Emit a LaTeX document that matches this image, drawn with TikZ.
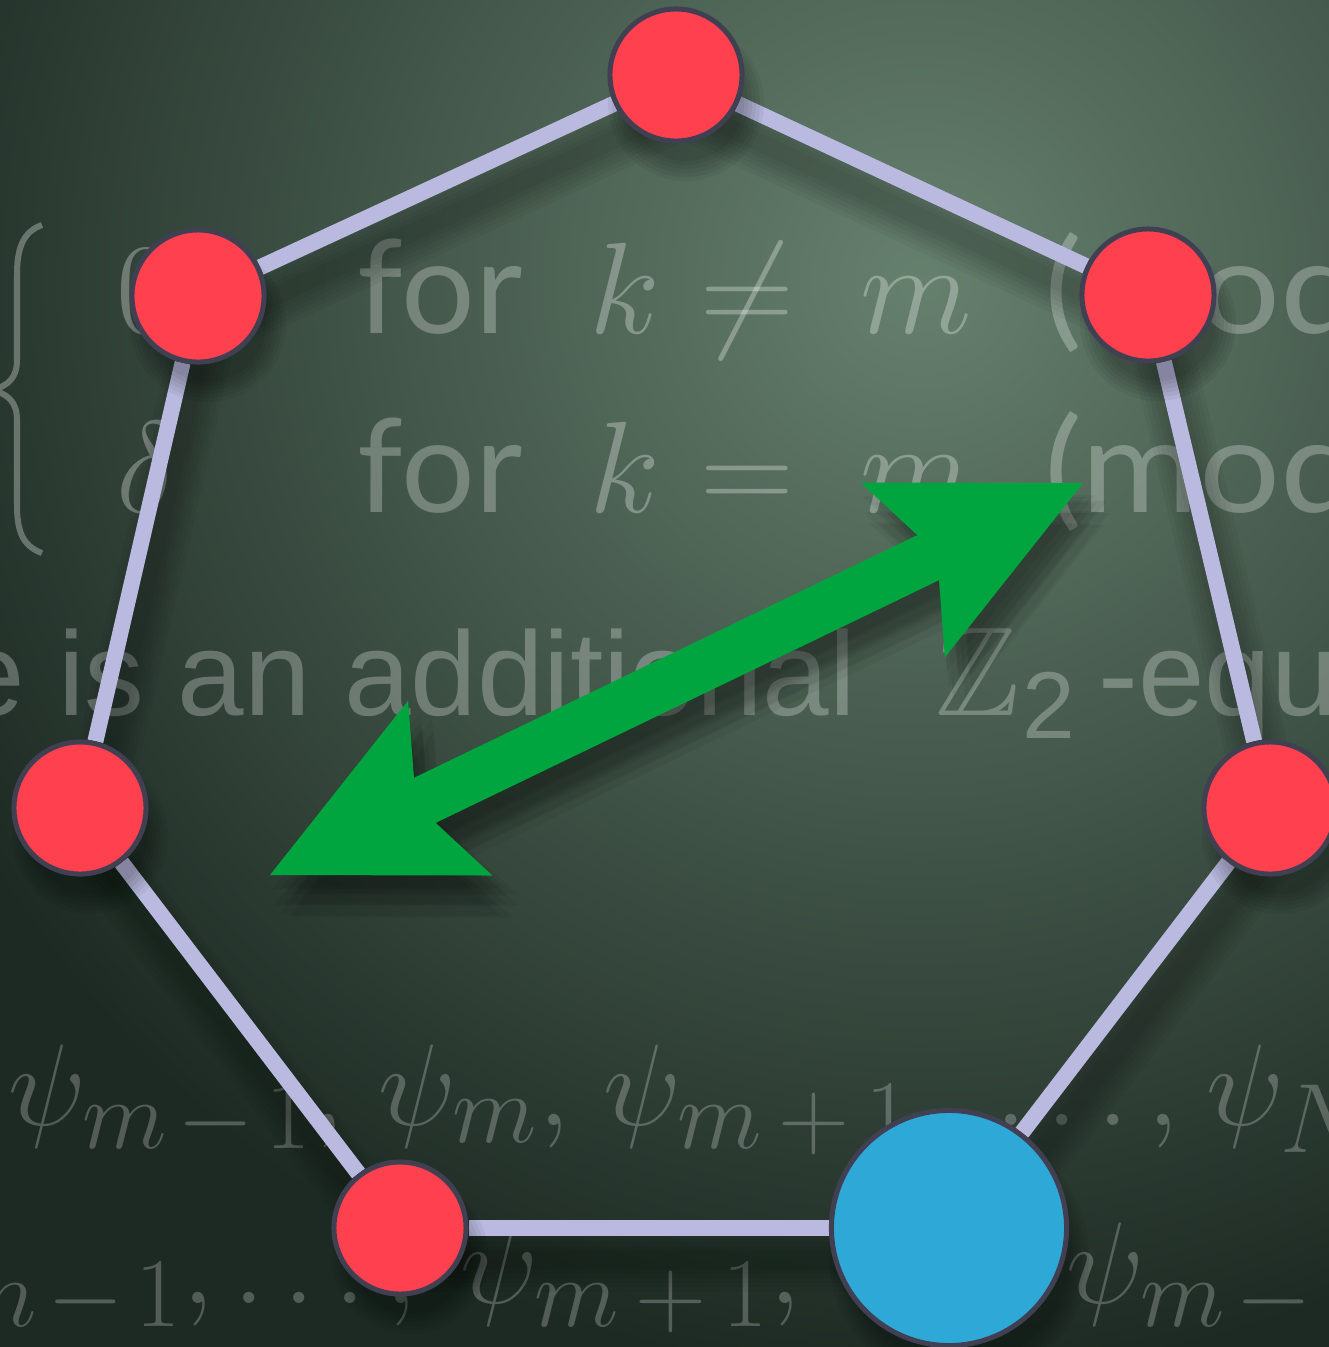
\RequirePackage{fix-cm}
\documentclass[tikz,border=0pt]{standalone}
\usepackage{fontspec}
\usepackage{amssymb}
\usepackage{graphicx}
\setsansfont{Lato}
\newfontfamily\condfont{Liberation Sans}
\usetikzlibrary{arrows.meta}
\definecolor{cboard}{HTML}{1D2A23}
\definecolor{cglow}{HTML}{66806E}
\definecolor{cred}{HTML}{FF404E}
\definecolor{cblue}{HTML}{2EA8D6}
\definecolor{crim}{HTML}{404052}
\definecolor{cedge}{HTML}{BABAE0}
\definecolor{cgreen}{HTML}{00A540}
\DeclareMathSizes{37}{37}{30}{24}
\DeclareMathSizes{33}{33}{28}{22}
\newcommand{\mminus}{m\mkern2mu-\mkern2mu1}
\newcommand{\mplus}{m\mkern3mu+\mkern3mu1}
\pgfdeclarelayer{board}
\pgfdeclarelayer{lowshadow}
\pgfdeclarelayer{links}
\pgfdeclarelayer{highshadow}
\pgfsetlayers{board,lowshadow,links,highshadow,main}
\tikzset{
  chalk/.style={text=white, text opacity=#1, inner sep=0pt, anchor=base west},
  chalk/.default=0.3,
  bigchalk/.style={chalk=0.27, font=\sffamily\fontsize{37}{40}\selectfont},
  mathbig/.style={chalk=0.3, font=\fontsize{37}{40}\selectfont},
  condchalk/.style={chalk=0.27, font=\condfont\fontsize{34}{38}\selectfont},
  mathchalk/.style={chalk=0.24, font=\fontsize{33}{36}\selectfont},
  vertex/.style={circle, draw=crim, line width=0.05cm, fill=cred, minimum size=1.32cm, inner sep=0pt},
  bigvertex/.style={vertex, fill=cblue, minimum size=2.35cm},
  link/.style={draw=cedge, line width=0.16cm},
  bighead/.tip={Stealth[length=2cm, width=1.94cm, inset=0.38cm, line width=0pt]},
  duoarrow/.style={draw=#1, line width=0.5cm, bighead-bighead},
  duoarrow/.default=cgreen,
}

\begin{document}
\begin{tikzpicture}[x=0.01cm, y=-0.01cm]
  \useasboundingbox (0,0) rectangle (1329,1347);
  % the ring
  \foreach \i/\x/\y in {1/676/75, 2/1148/295, 3/1270/808, 5/400/1228, 6/80/808, 7/198/296}
    \node[vertex] (n\i) at (\x,\y) {};
  \node[bigvertex] (n4) at (949,1228) {};
  \coordinate (aL) at (270,875);
  \coordinate (aR) at (1083,483);
  \draw[duoarrow] (aL) -- (aR);

  \begin{pgfonlayer}{board}
    \fill[cboard] (0,0) rectangle (1329,1347);
    \begin{scope}
      \clip (0,0) rectangle (1329,1347);
      \shade[inner color=cglow, outer color=cboard] (920,280) circle (1100);
    \end{scope}
    \draw[white, draw opacity=0.3, line width=0.06cm]
      (42,225) .. controls (22,232) and (17,250) .. (17,275) -- (17,360)
      .. controls (17,378) and (8,386) .. (-8,390) .. controls (8,394) and (17,402) .. (17,420)
      -- (17,505) .. controls (17,530) and (22,546) .. (42,553);
    \foreach \x/\a/\b [count=\c] in {357/for/for, 1044/{\scalebox{1.1}[1]{(mod}}/{\scalebox{1.1}[1]{(mod}}}
      { \node[bigchalk] (ra\c) at (\x,333) {\a};
        \node[bigchalk] (rb\c) at (\x,512) {\b}; }
    \foreach \x/\a/\b [count=\c] in {116/0/\delta, 589/k/k, 700/\neq/=, 860/m/m}
      { \node[mathbig] (sa\c) at (\x,333) {$\a$};
        \node[mathbig] (sb\c) at (\x,512) {$\b$}; }
    \node[condchalk] (rc1) at (-42,715) {e is an additional};
    \node[chalk=0.27, font=\fontsize{36}{40}\selectfont] (rc2) at (935,715) {$\mathbb{Z}$};
    \node[condchalk] (rc3) at (1022,738) {\fontsize{27}{30}\selectfont 2};
    \node[condchalk] (rc4) at (1098,715) {-equ};
    \foreach \x/\t [count=\c] in {8/{\psi_{\mminus},}, 378/{\psi_m,}, 603/{\psi_{\mplus},},
                                  995/{\ldots,}, 1206/{\psi_N}}
      \node[mathchalk] (rd\c) at (\x,1125) {$\t$};
    \foreach \x/\t [count=\c] in {-122/{\psi_{\mminus}, \ldots,}, 460/{\psi_{\mplus},\;\ldots,},
                                  1066/{\psi_{\mminus}}}
      \node[mathchalk] (re\c) at (\x,1303) {$\t$};
  \end{pgfonlayer}

  \begin{pgfonlayer}{lowshadow}
    \foreach \a/\b in {1/2, 2/3, 3/4, 4/5, 5/6, 6/7, 7/1}
      \foreach \w in {2,...,7}
        \draw[black, opacity=0.04, line width=\w*0.09cm, line cap=round,
              transform canvas={shift={(8,32)}}] (n\a.center) -- (n\b.center);
  \end{pgfonlayer}

  \begin{pgfonlayer}{links}
    \foreach \a/\b in {1/2, 2/3, 3/4, 4/5, 5/6, 6/7, 7/1}
      \draw[link] (n\a) -- (n\b);
  \end{pgfonlayer}

  \begin{pgfonlayer}{highshadow}
    \foreach \i/\r in {1/66, 2/66, 3/66, 5/66, 6/66, 7/66, 4/118}
      \foreach \k in {0,...,5}
        \fill[black, opacity=0.05] (n\i.center) ++(10,28) circle ({\r+\k*4-8});
    \foreach \dx/\dy in {2/14, 12/12, 24/18, 4/30, 14/28, 26/30, 8/40, 20/42, 14/20}
      \draw[duoarrow=black, opacity=0.05, transform canvas={shift={(\dx,\dy)}}] (aL) -- (aR);
  \end{pgfonlayer}
\end{tikzpicture}
\end{document}
